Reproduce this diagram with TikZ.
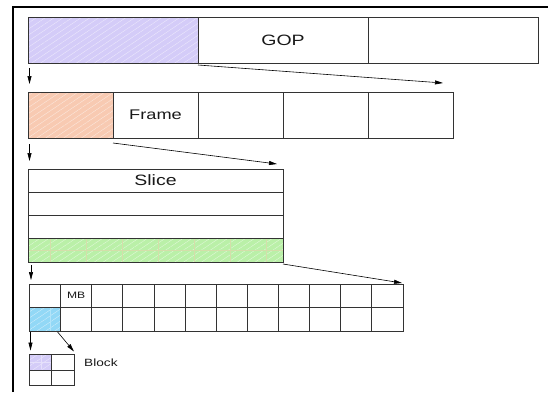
\documentclass[tikz,border=0pt]{standalone}
\usepackage{fontspec}
\setmainfont{Liberation Sans}
\newfontfamily\widesans[FakeStretch=1.3]{Liberation Sans}
\usetikzlibrary{calc,arrows.meta,patterns.meta}
\definecolor{purp}{RGB}{212,204,248}
\definecolor{peach}{RGB}{248,202,178}
\definecolor{lgreen}{RGB}{186,240,168}
\definecolor{lblue}{RGB}{146,216,246}
\definecolor{edge}{RGB}{51,51,51}
\definecolor{subgrid}{RGB}{212,222,170}
\definecolor{txt}{RGB}{25,25,25}
\tikzset{
  cell/.style={draw=edge, line width=0.9pt, inner sep=0pt, outer sep=0pt, rectangle, text=txt},
  gopcell/.style={cell, minimum width=170pt, minimum height=46pt},
  framecell/.style={cell, minimum width=85pt, minimum height=46pt},
  slicecell/.style={cell, minimum width=255pt, minimum height=23.25pt},
  mbcell/.style={cell, minimum width=31.125pt, minimum height=23.5pt},
  blkcell/.style={cell, minimum width=22.25pt, minimum height=15.5pt},
  hatch/.style={preaction={fill=#1},
    preaction={pattern={Lines[angle=34,distance=5pt,line width=0.4pt]}, pattern color=#1!45!white}},
  conn/.style={-{Triangle[length=8pt,width=4pt]}, line width=0.6pt, black},
  subline/.style={draw=subgrid, line width=0.5pt},
  frameline/.style={line width=2.5pt, black},
}
\begin{document}
\begin{tikzpicture}[x=1pt, y=-1pt]
\fill[white] (0,0) rectangle (548,392);
\useasboundingbox (0,0) rectangle (548,392);
\draw[frameline] (13,392) -- (13,7) -- (548,7);

% GOP row
\node[gopcell, hatch=purp] (g1) at (113,40) {};
\node[gopcell, font=\widesans\fontsize{15}{18}\selectfont] (g2) at (283,40) {GOP};
\node[gopcell] (g3) at (453,40) {};

% Frame row
\node[framecell, hatch=peach] (f1) at (70.5,115) {};
\node[framecell, font=\widesans\fontsize{14}{17}\selectfont] (f2) at (155.5,115) {Frame};
\node[framecell] (f3) at (240.5,115) {};
\node[framecell] (f4) at (325.5,115) {};
\node[framecell] (f5) at (410.5,115) {};

% Slice rows
\node[slicecell, font=\widesans\fontsize{15}{18}\selectfont] (s1) at (155.5,180.625) {Slice};
\node[slicecell] (s2) at (155.5,203.875) {};
\node[slicecell] (s3) at (155.5,227.125) {};
\node[slicecell, hatch=lgreen] (s4) at (155.5,250.375) {};
\begin{scope}
  \clip (s4.north west) rectangle (s4.south east);
  \foreach \k in {0,...,6} \draw[subline] ({50+36*\k},238) -- ({50+36*\k},263);
  \draw[subline] (28,250.4) -- (284,250.4);
\end{scope}
\node[slicecell] at (s4) {};

% MB grid
\node[mbcell] (m1-1) at ({29.5+31.125*0.5},295.75) {};
\node[mbcell, font=\widesans\fontsize{9.3}{11}\selectfont] (m1-2) at ({29.5+31.125*1.5},295.75) {MB};
\node[mbcell, hatch=lblue] (m2-1) at ({29.5+31.125*0.5},319.25) {};
\draw[draw=lblue!70!white, line width=0.5pt] (50,308) -- (50,331);
\node[mbcell] at (m2-1) {};
\node[mbcell] (m2-2) at ({29.5+31.125*1.5},319.25) {};
\foreach \i in {3,...,12} {
  \node[mbcell] (m1-\i) at ({29.5+31.125*(\i-0.5)},295.75) {};
  \node[mbcell] (m2-\i) at ({29.5+31.125*(\i-0.5)},319.25) {};
}

% Block grid
\node[blkcell, hatch=purp] (b11) at (40.625,362.25) {};
\draw[draw=purp!60!white, line width=0.5pt] (30,362) -- (51,362) (41,355) -- (41,369);
\node[blkcell] at (b11) {};
\node[blkcell] (b12) at (62.875,362.25) {};
\node[blkcell] (b21) at (40.625,377.75) {};
\node[blkcell] (b22) at (62.875,377.75) {};
\node[anchor=west, inner sep=0pt, text=txt, font=\widesans\fontsize{10.5}{12}\selectfont] (blk) at ($(b12.east)+(10,0)$) {Block};

% connectors
\draw[conn] ($(g1.south west)+(1.5,5)$) -- ($(f1.north west)+(1.5,-8)$);
\draw[conn] ($(g1.south east)+(0,2)$) -- ($(f5.north east)+(-10,-9)$);
\draw[conn] ($(f1.south west)+(1.5,6)$) -- ($(s1.north west)+(1.5,-8)$);
\draw[conn] ($(f1.south east)+(0,5)$) -- ($(s1.north east)+(-6,-5)$);
\draw[conn] ($(s4.south west)+(3,3)$) -- ($(m1-1.north west)+(1.5,-4)$);
\draw[conn] ($(s4.south east)+(0,2)$) -- ($(m1-12.north east)+(-1,-1)$);
\draw[conn] ($(m2-1.south west)+(1,1)$) -- ($(b11.north west)+(1,-4)$);
\draw[conn] ($(m2-1.south east)+(-3,1)$) -- ($(b12.north east)+(0,-3)$);
\end{tikzpicture}
\end{document}
